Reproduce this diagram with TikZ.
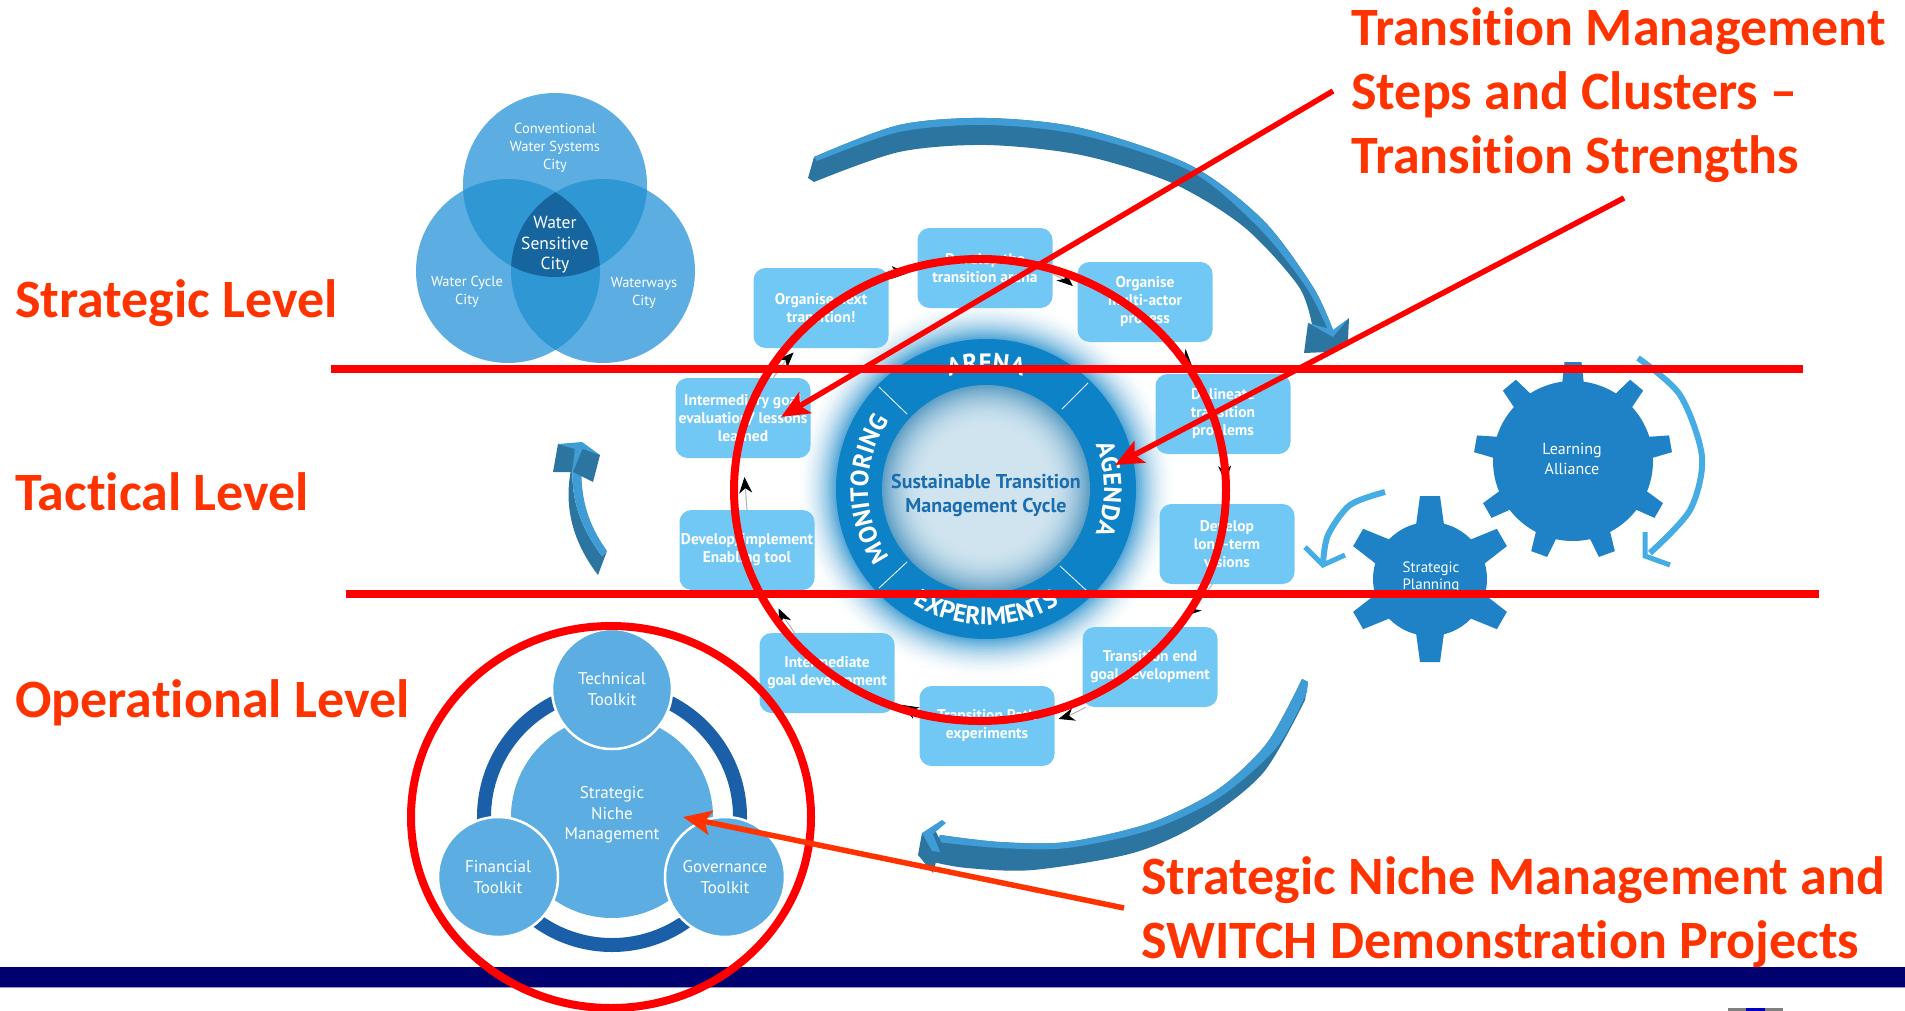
\documentclass[tikz,border=0pt]{standalone}
\usepackage{fontspec}
\setmainfont{PT Sans}
\newfontfamily\headfont[Ligatures=NoCommon]{Carlito}
\usetikzlibrary{arrows.meta,decorations.text}
\definecolor{boxblue}{HTML}{72C8F4}
\definecolor{ringblue}{HTML}{0E82C6}
\definecolor{venna}{HTML}{5CADE1}
\definecolor{vennb}{HTML}{3097D5}
\definecolor{vennc}{HTML}{17659F}
\definecolor{darkring}{HTML}{1A5FA8}
\definecolor{geara}{HTML}{1F82C6}
\definecolor{curvea}{HTML}{45ADE3}
\definecolor{banddark}{HTML}{2C75A1}
\definecolor{bandlight}{HTML}{3F9CD5}
\definecolor{labelred}{HTML}{FF3300}
\definecolor{linered}{HTML}{FF0000}
\definecolor{barblue}{HTML}{00006F}
\definecolor{centertext}{HTML}{1B6DB0}
\definecolor{innerlight}{HTML}{CFE4EF}
\definecolor{inneredge}{HTML}{5F9FC5}
\tikzset{
 stepbox/.style={rectangle,rounded corners=12pt,fill=boxblue,minimum width=135pt,minimum height=80pt,
  inner sep=0pt,align=center,text=white,font=\fontsize{15.5}{18}\selectfont\bfseries},
 cyc/.style={draw=black!30,line width=1pt,-{Stealth[length=16pt,width=13pt,inset=5pt,black]}},
 venntext/.style={align=center,text=white,font=\fontsize{14.5}{18}\selectfont},
 kit/.style={circle,fill=venna,draw=white,line width=2.5pt,minimum size=120pt,inner sep=0pt,align=center,
  text=white,font=\fontsize{17}{21}\selectfont},
 redline/.style={draw=linered,line width=8pt},
 redarrow/.style={draw=linered,line width=5.5pt,-{Stealth[length=28pt,width=24pt,inset=6pt]}},
 biglabel/.style={text=labelred,align=left,anchor=west,inner sep=0pt,font=\headfont\bfseries\fontsize{54}{64}\selectfont},
 ringlabel/.style={decorate,decoration={text along path,text align=center,
   text={|\fontsize{25}{25}\selectfont\bfseries\color{white}|#1}}},
 gearlabel/.style={align=center,text=white,font=\fontsize{16}{20}\selectfont},
 gearfill/.style={fill=geara}
}
\begin{document}
\begin{tikzpicture}[x=1pt,y=-1pt]
\useasboundingbox (0,0) rectangle (1905,1011);
\fill[white] (0,0) rectangle (1905,1011);

% Venn
\fill[venna] (555,185) circle[radius=92];
\fill[venna] (508,271) circle[radius=92];
\fill[venna] (603,271) circle[radius=92];
\begin{scope}\clip (555,185) circle[radius=92]; \fill[vennb] (508,271) circle[radius=92]; \fill[vennb] (603,271) circle[radius=92];\end{scope}
\begin{scope}\clip (508,271) circle[radius=92]; \fill[vennb] (603,271) circle[radius=92];\end{scope}
\begin{scope}\clip (555,185) circle[radius=92]; \clip (508,271) circle[radius=92]; \fill[vennc] (603,271) circle[radius=92];\end{scope}
\node[venntext] (vconv) at (555,148) {Conventional\\Water Systems\\City};
\node[align=center,text=white,font=\fontsize{17.5}{20.5}\selectfont] (vwsc) at (555,245) {Water\\Sensitive\\City};
\node[venntext] (vcycle) at (467,292) {Water Cycle\\City};
\node[venntext] (vways) at (644,293) {Waterways\\City};

% Big 3D arrows
\fill[banddark] plot[smooth] coordinates {(814,157) (899,125) (986,118) (1081,128) (1190,165) (1263,220) (1313,287) (1333,330)}
 -- plot[smooth] coordinates {(1313,330) (1299,287) (1244,227) (1172,183) (1081,155) (986,145) (899,152) (814,182)} -- (808,178) -- cycle;
\fill[bandlight] plot[smooth] coordinates {(814,157) (899,125) (986,118) (1081,128) (1190,165) (1263,220) (1313,287) (1333,330)}
 -- plot[smooth] coordinates {(1328,330) (1306,287) (1259,228) (1190,171) (1081,135) (986,125) (899,132) (817,161)} -- cycle;
\fill[banddark] (1308,323) -- (1333,335) -- (1349,318) -- (1348,340) -- (1328,352) -- (1304,353) -- cycle;
\fill[bandlight] (1308,323) -- (1333,330) -- (1349,318) -- (1333,337) -- cycle;

\fill[banddark] plot[smooth] coordinates {(1302,679) (1267,743) (1217,790) (1150,823) (1067,842) (1000,842) (940,835)}
 -- plot[smooth] coordinates {(933,862) (967,868) (1033,870) (1133,853) (1200,823) (1263,773) (1305,700)} -- (1308,682) -- cycle;
\fill[bandlight] plot[smooth] coordinates {(1302,679) (1267,743) (1217,790) (1150,823) (1067,842) (1000,842) (940,835)}
 -- plot[smooth] coordinates {(937,842) (1000,848) (1067,848) (1150,830) (1220,797) (1277,747) (1307,692)} -- (1308,682) -- cycle;
\fill[banddark] (922,833) -- (918,855) -- (933,873) -- (936,862) -- (945,850) -- (935,830) -- cycle;
\fill[bandlight] (922,833) -- (942,820) -- (946,823) -- (933,834) -- (940,852) -- (932,851) -- cycle;

\fill[banddark] (571,470) .. controls (563,510) and (575,545) .. (598,575) -- (607,551) -- (602,556) .. controls (578,525) and (567,490) .. (575,448) -- cycle;
\fill[bandlight] (583,448) .. controls (578,490) and (585,520) .. (607,551) -- (602,556) .. controls (578,525) and (567,490) .. (575,448) -- cycle;
\fill[banddark] (558,444) -- (575,448) -- (572,472) -- (553,472) -- cycle;
\fill[banddark] (583,448) -- (600,455) -- (593,482) -- (573,472) -- cycle;
\fill[bandlight] (558,444) -- (582,442) -- (600,455) -- (583,449) -- (575,449) -- cycle;

% Cycle centre: glow, ring and inner disc built from concentric discs
\foreach \r in {192,190,...,150}{
 \pgfmathsetmacro{\pp}{75*(1-(\r-150)/42)*(1-(\r-150)/42)}
 \fill[ringblue!\pp!white] (986,489) circle[radius=\r];}
\fill[ringblue] (986,489) circle[radius=150];
\fill[inneredge] (986,489) circle[radius=104];
\foreach \r in {103,101.5,...,62}{
 \pgfmathsetmacro{\pp}{100*((\r-62)/42)*((\r-62)/42)}
 \fill[inneredge!\pp!innerlight] (986,489) circle[radius=\r];}
\draw[white,line width=0.8pt] (879,387) -- (907,414);
\draw[white,line width=0.8pt] (1088,383) -- (1062,409);
\draw[white,line width=0.8pt] (907,562) -- (879,588);
\draw[white,line width=0.8pt] (1060,566) -- (1086,590);
\path[ringlabel=MONITORING] (986pt,-489pt) ++(240:118pt) arc[start angle=240,end angle=120,radius=118pt];
\path[ringlabel=AGENDA] (986pt,-489pt) ++(60:118pt) arc[start angle=60,end angle=-60,radius=118pt];
\path[ringlabel=ARENA] (986pt,-489pt) ++(150:118pt) arc[start angle=150,end angle=30,radius=118pt];
\path[ringlabel=EXPERIMENTS] (986pt,-489pt) ++(210:136pt) arc[start angle=210,end angle=330,radius=136pt];
\node[align=center,text=centertext,font=\fontsize{20}{24}\selectfont\bfseries] (core) at (986,495) {Sustainable Transition\\Management Cycle};

% Boxes
\node[stepbox] (bnext) at (821,308) {Organise next\\transition!};
\node[stepbox] (barena) at (985,268) {Develop the\\transition arena};
\node[stepbox] (bactor) at (1145,302) {Organise\\multi-actor\\process};
\node[stepbox] (bprob) at (1223,414) {Delineate\\transition\\problems};
\node[stepbox] (bvis) at (1227,544) {Develop\\long-term\\visions};
\node[stepbox] (bend) at (1150,667) {Transition end\\goal development};
\node[stepbox] (bpath) at (987,726) {Transition Path\\experiments};
\node[stepbox] (bmid) at (827,673) {Intermediate\\goal development};
\node[stepbox] (btool) at (747,550) {Develop/implement\\Enabling tool};
\node[stepbox] (beval) at (743,418) {Intermediary goal\\evaluation/ lessons\\learned};

\draw[cyc,shorten >=10pt] (bnext.25) to[bend left=8] (barena.185);
\draw[cyc,shorten >=6pt] (barena.-5) to[bend left=8] (bactor.170);
\draw[cyc,shorten >=12pt] (bactor.-65) to[bend left=6] (bprob.120);
\draw[cyc,shorten >=22pt] (bprob.-95) to[bend left=5] (bvis.north);
\draw[cyc,shorten >=16pt] (bvis.-110) to[bend left=6] (bend.60);
\draw[cyc,shorten >=4pt] (bend.-148) to[bend left=6] (bpath.5);
\draw[cyc,shorten >=9pt] (bpath.168) to[bend left=6] (bmid.-22);
\draw[cyc,shorten >=20pt] (bmid.129) to[bend left=5] (btool.-60);
\draw[cyc,shorten >=19pt] (btool.north) to (beval.south);
\draw[cyc,shorten >=6pt] (beval.53) to[bend left=5] (bnext.-120);

% Gears
\fill[gearfill] (1573,461) circle[radius=80];
\foreach \a in {0,40,...,320}{
 \fill[gearfill,shift={(1573,461)},rotate=\a] (-11,-76) -- (-8.5,-99) -- (8.5,-99) -- (11,-76) -- cycle;}
\fill[gearfill] (1430,579) circle[radius=57];
\foreach \a in {0,60,...,300}{
 \fill[gearfill,shift={(1430,579)},rotate=\a] (-14,-54) -- (-10,-83) -- (10,-83) -- (14,-54) -- cycle;}
\node[gearlabel] (galliance) at (1572,459) {Learning\\Alliance};
\node[gearlabel,font=\fontsize{15}{17.5}\selectfont] (gplanning) at (1431,577) {Strategic\\Planning};
\draw[curvea,line width=6pt] plot[smooth] coordinates {(1638,358) (1680,395) (1702,457) (1690,510) (1650,553)};
\draw[curvea,line width=5pt,line join=miter] (1645,532) -- (1645,556) -- (1670,565);
\draw[curvea,line width=6pt] plot[smooth] coordinates {(1385,492) (1350,505) (1328,535) (1323,563)};
\draw[curvea,line width=5pt,line join=miter] (1305,547) -- (1323,565) -- (1345,555);

% SNM group
\draw[darkring,line width=14pt] (612,817) circle[radius=128];
\fill[venna] (612,817) circle[radius=101];
\node[align=center,text=white,font=\fontsize{17}{20.5}\selectfont] (snm) at (612,815) {Strategic\\Niche\\Management};
\node[kit] (ktech) at (612,689) {Technical\\Toolkit};
\node[kit] (kfin) at (498,877) {Financial\\Toolkit};
\node[kit] (kgov) at (725,877) {Governance\\Toolkit};

% Bottom bar and logo
\fill[barblue] (0,967) rectangle (1905,987);
\fill[white!60!barblue] (0,987) rectangle (1905,988);
\fill[black!50] (1728,1008) rectangle (1783,1011);
\fill[blue!75!black] (1746,1008) rectangle (1765,1011);

% Red overlays
\draw[redline] (331,369) -- (1803,369);
\draw[redline] (346,594) -- (1819,594);
\draw[redline] (980,490) ellipse[x radius=246,y radius=231];
\draw[redline] (611,817) ellipse[x radius=200,y radius=191];

\coordinate (a1s) at (1333,91);
\coordinate (a1e) at (781,417);
\coordinate (a2s) at (1624,198);
\coordinate (a2e) at (1115,465);
\coordinate (a3s) at (1124,908);
\coordinate (a3e) at (683,817);
\draw[redarrow] (a1s) -- (a1e);
\draw[redarrow] (a2s) -- (a2e);
\draw[redarrow,draw=labelred] (a3s) -- (a3e);

% Labels
\node[biglabel] (lstrat) at (15,303) {Strategic Level};
\node[biglabel] (ltact) at (15,492) {Tactical Level};
\node[biglabel] (loper) at (15,703) {Operational Level};
\node[biglabel] (ltm) at (1351,95) {Transition Management\\Steps and Clusters –\\Transition Strengths};
\node[biglabel] (lsn) at (1141,912) {Strategic Niche Management and\\SWITCH Demonstration Projects};
\end{tikzpicture}
\end{document}
